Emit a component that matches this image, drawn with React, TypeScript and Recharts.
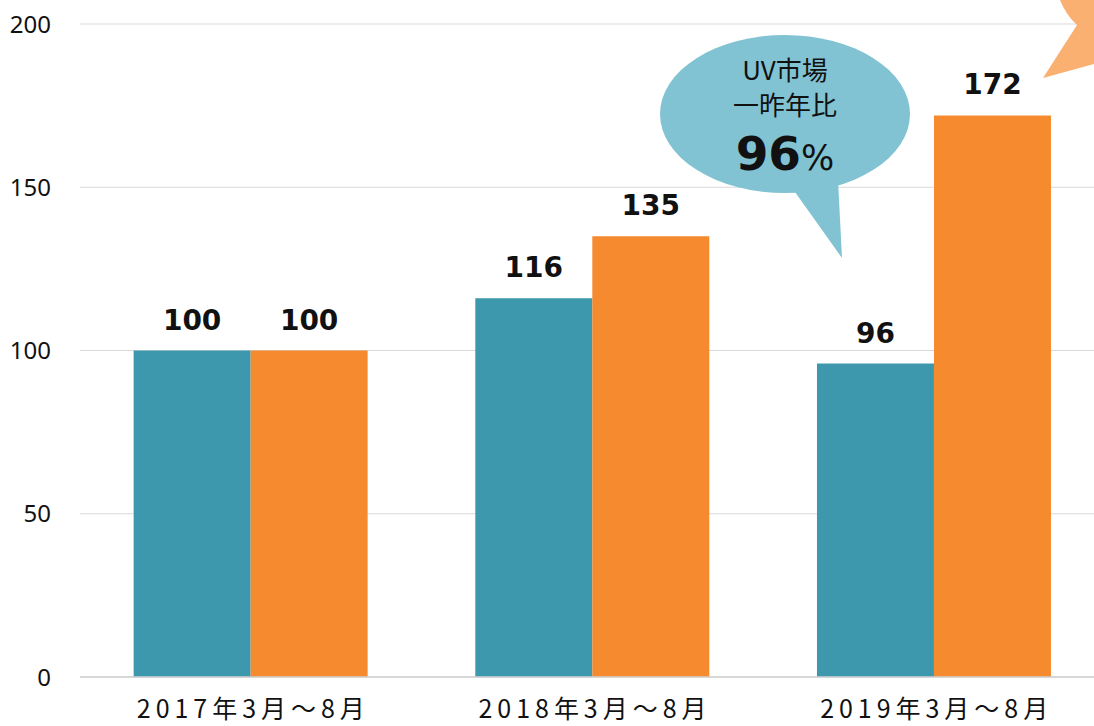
import React from 'react';
import { BarChart, Bar, XAxis, YAxis, CartesianGrid, LabelList } from 'recharts';

const categories = ['2017年3月～8月', '2018年3月～8月', '2019年3月～8月'];
const uvMarket = [100, 116, 96];
const company = [100, 135, 172];
const yTicks = [0, 50, 100, 150, 200];

const data = categories.map((c, i) => ({ name: c, uv: uvMarket[i], co: company[i] }));

const TEAL = '#3D98AE';
const ORANGE = '#F58A2F';

const YTick = (props: any) => {
  const { y, payload } = props;
  return (
    <text x={51} y={y} dy={8.5} textAnchor="end" fontFamily="'Noto Sans', sans-serif" fontSize={24} fill="#111">
      {payload.value}
    </text>
  );
};

const XTick = (props: any) => {
  const { x, payload } = props;
  return (
    <text
      x={x}
      y={718}
      textAnchor="middle"
      fontFamily="'Noto Sans CJK JP', sans-serif"
      fontSize={25}
      fill="#111"
      textLength={228}
      lengthAdjust="spacing"
    >
      {payload.value}
    </text>
  );
};

const BarLabel = (props: any) => {
  const { x, y, width, value } = props;
  return (
    <text
      x={x + width / 2}
      y={y - 21}
      textAnchor="middle"
      fontFamily="'DejaVu Sans', sans-serif"
      fontWeight="bold"
      fontSize={28}
      fill="#111"
    >
      {value}
    </text>
  );
};

export default function App() {
  return (
    <div style={{ position: 'absolute', left: 0, top: 0, width: 1094, height: 726, overflow: 'hidden', background: '#fff' }}>
      <BarChart
        width={1105}
        height={726}
        data={data}
        margin={{ top: 24, right: 0, bottom: 0, left: 0 }}
        barGap={0}
        barCategoryGap="15.7%"
      >
        <CartesianGrid horizontal vertical={false} stroke="#D9D9D9" strokeWidth={1.2} />
        <XAxis
          dataKey="name"
          height={49}
          axisLine={{ stroke: '#D0D0D0', strokeWidth: 1.5 }}
          tickLine={false}
          tick={<XTick />}
          interval={0}
        />
        <YAxis
          width={80}
          domain={[0, 200]}
          ticks={yTicks}
          axisLine={false}
          tickLine={false}
          tick={<YTick />}
        />
        <Bar dataKey="uv" fill={TEAL} isAnimationActive={false}>
          <LabelList dataKey="uv" content={<BarLabel />} />
        </Bar>
        <Bar dataKey="co" fill={ORANGE} isAnimationActive={false}>
          <LabelList dataKey="co" content={<BarLabel />} />
        </Bar>
      </BarChart>
      <svg width={1094} height={726} style={{ position: 'absolute', left: 0, top: 0, pointerEvents: 'none' }}>
        <path d="M1060,0 Q1066,15 1077,25 L1043,78 L1094,64 L1094,0 Z" fill="#F9B070" />
        <ellipse cx={785} cy={114} rx={125} ry={79} fill="#81C3D3" />
        <path d="M790,185 L842,258 L838,180 Z" fill="#81C3D3" />
        <text x={785} y={80} textAnchor="middle" fontFamily="'Noto Sans CJK JP', sans-serif" fontSize={26} fill="#111">
          UV市場
        </text>
        <text x={785} y={115} textAnchor="middle" fontFamily="'Noto Sans CJK JP', sans-serif" fontSize={26} fill="#111">
          一昨年比
        </text>
        <text x={785} y={170} textAnchor="middle" fill="#111">
          <tspan fontFamily="'DejaVu Sans', sans-serif" fontWeight="bold" fontSize={47}>96</tspan>
          <tspan fontFamily="'DejaVu Sans', sans-serif" fontSize={35}>%</tspan>
        </text>
      </svg>
    </div>
  );
}
